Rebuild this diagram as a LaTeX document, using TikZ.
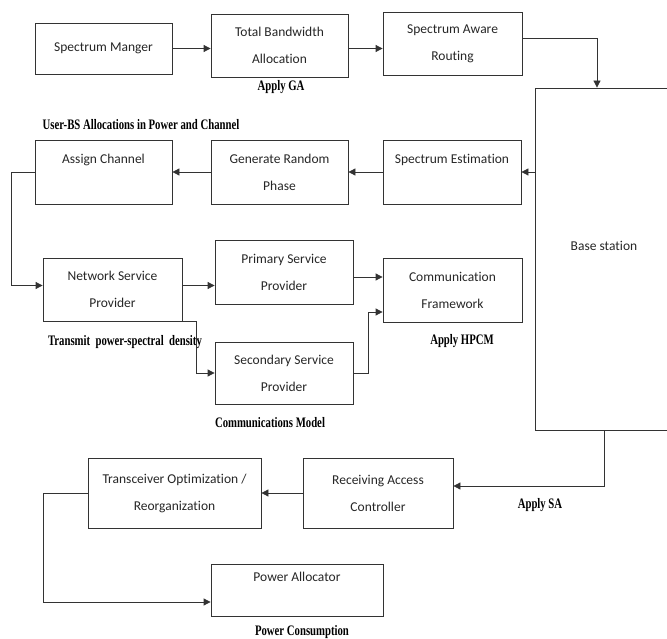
\documentclass[tikz,border=0pt]{standalone}
\usepackage{fontspec}
\usetikzlibrary{arrows.meta}
\newfontfamily\boxfont[Ligatures=NoCommon]{Carlito}
\newfontfamily\lblfont[FakeStretch=0.74]{Liberation Serif}
\begin{document}
\begin{tikzpicture}[x=1pt, y=-1pt,
  blk/.style={draw=black!80, line width=0.8pt, align=center, inner sep=0pt,
    font=\boxfont\fontsize{13.5}{27}\selectfont, text=black!85},
  lbl/.style={font=\lblfont\bfseries\fontsize{14.5}{16}\selectfont, inner sep=0pt},
  arr/.style={draw=black!80, line width=0.8pt, -{Triangle[width=7pt,length=7pt]}},
  ln/.style={draw=black!80, line width=0.8pt}]
\useasboundingbox (0,0) rectangle (667,639);

\node[blk, minimum width=137, minimum height=51] (sm) at (103.5,48.5) {Spectrum Manger};
\node[blk, minimum width=137, minimum height=63] (tba) at (279.5,45.5) {Total Bandwidth\\Allocation};
\node[blk, minimum width=139, minimum height=63] (sar) at (452.5,43.5) {Spectrum Aware\\Routing};
\node[blk, minimum width=138, minimum height=342] (bs) at (604,259) {Base station\\\mbox{}};

\node[blk, minimum width=138, minimum height=64] (se) at (452,172) {Spectrum Estimation\\\mbox{}};
\node[blk, minimum width=137, minimum height=64] (grp) at (279.5,172) {Generate Random\\Phase};
\node[blk, minimum width=137, minimum height=64] (ac) at (103.5,172) {Assign Channel\\\mbox{}};

\node[blk, minimum width=139, minimum height=63] (nsp) at (112.5,289.5) {Network Service\\Provider};
\node[blk, minimum width=138, minimum height=64] (psp) at (284,272) {Primary Service\\Provider};
\node[blk, minimum width=138, minimum height=62] (ssp) at (284,373) {Secondary Service\\Provider};
\node[blk, minimum width=139, minimum height=64] (cf) at (452.5,290) {Communication\\Framework};

\node[blk, minimum width=150, minimum height=70] (rac) at (378,493) {Receiving Access\\Controller};
\node[blk, minimum width=173, minimum height=70] (tor) at (174.5,493) {Transceiver Optimization /\\Reorganization};
\node[blk, minimum width=172, minimum height=52] (pa) at (297,590) {Power Allocator\\\mbox{}};

\node[lbl] (lblga) at (281,87) {Apply GA};
\node[lbl] (lblbs) at (141,125) {User-BS Allocations in Power and Channel};
\node[lbl] (lblpsd) at (125,342) {Transmit~ power-spectral~ density};
\node[lbl] (lblcm) at (270,423) {Communications Model};
\node[lbl] (lblhpcm) at (462,341) {Apply HPCM};
\node[lbl] (lblsa) at (540,505) {Apply SA};
\node[lbl] (lblpc) at (302,632) {Power Consumption};

\draw[arr] (sm.east) -- (sm.east -| tba.west);
\draw[arr] ([yshift=-3pt]tba.east) -- ([yshift=-3pt]tba.east -| sar.west);
\draw[arr] ([yshift=5pt]sar.east) -| ([xshift=-7pt]bs.north);

\draw[arr] (bs.west |- se.east) -- (se.east);
\draw[arr] (se.west) -- (grp.east);
\draw[arr] (grp.west) -- (ac.east);
\draw[arr] (ac.west) -- ++(-23,0) |- ([yshift=4pt]nsp.west);

\draw[arr] ([yshift=4pt]nsp.east) -- ([yshift=4pt]nsp.east -| psp.west);
\draw[arr] (nsp.south east) -- ++(14,0) |- (ssp.west);
\draw[arr] ([yshift=-5pt]psp.east) -- ([yshift=-5pt]psp.east -| cf.west);
\draw[arr] (ssp.east) -- ++(15,0) |- ([yshift=-22pt]cf.west);

\draw[arr] (bs.south) |- ([yshift=7pt]rac.east);
\draw[arr] (rac.west) -- (tor.east);
\draw[arr] (tor.west) -- ++(-44,0) |- ([yshift=-12pt]pa.west);
\end{tikzpicture}
\end{document}
